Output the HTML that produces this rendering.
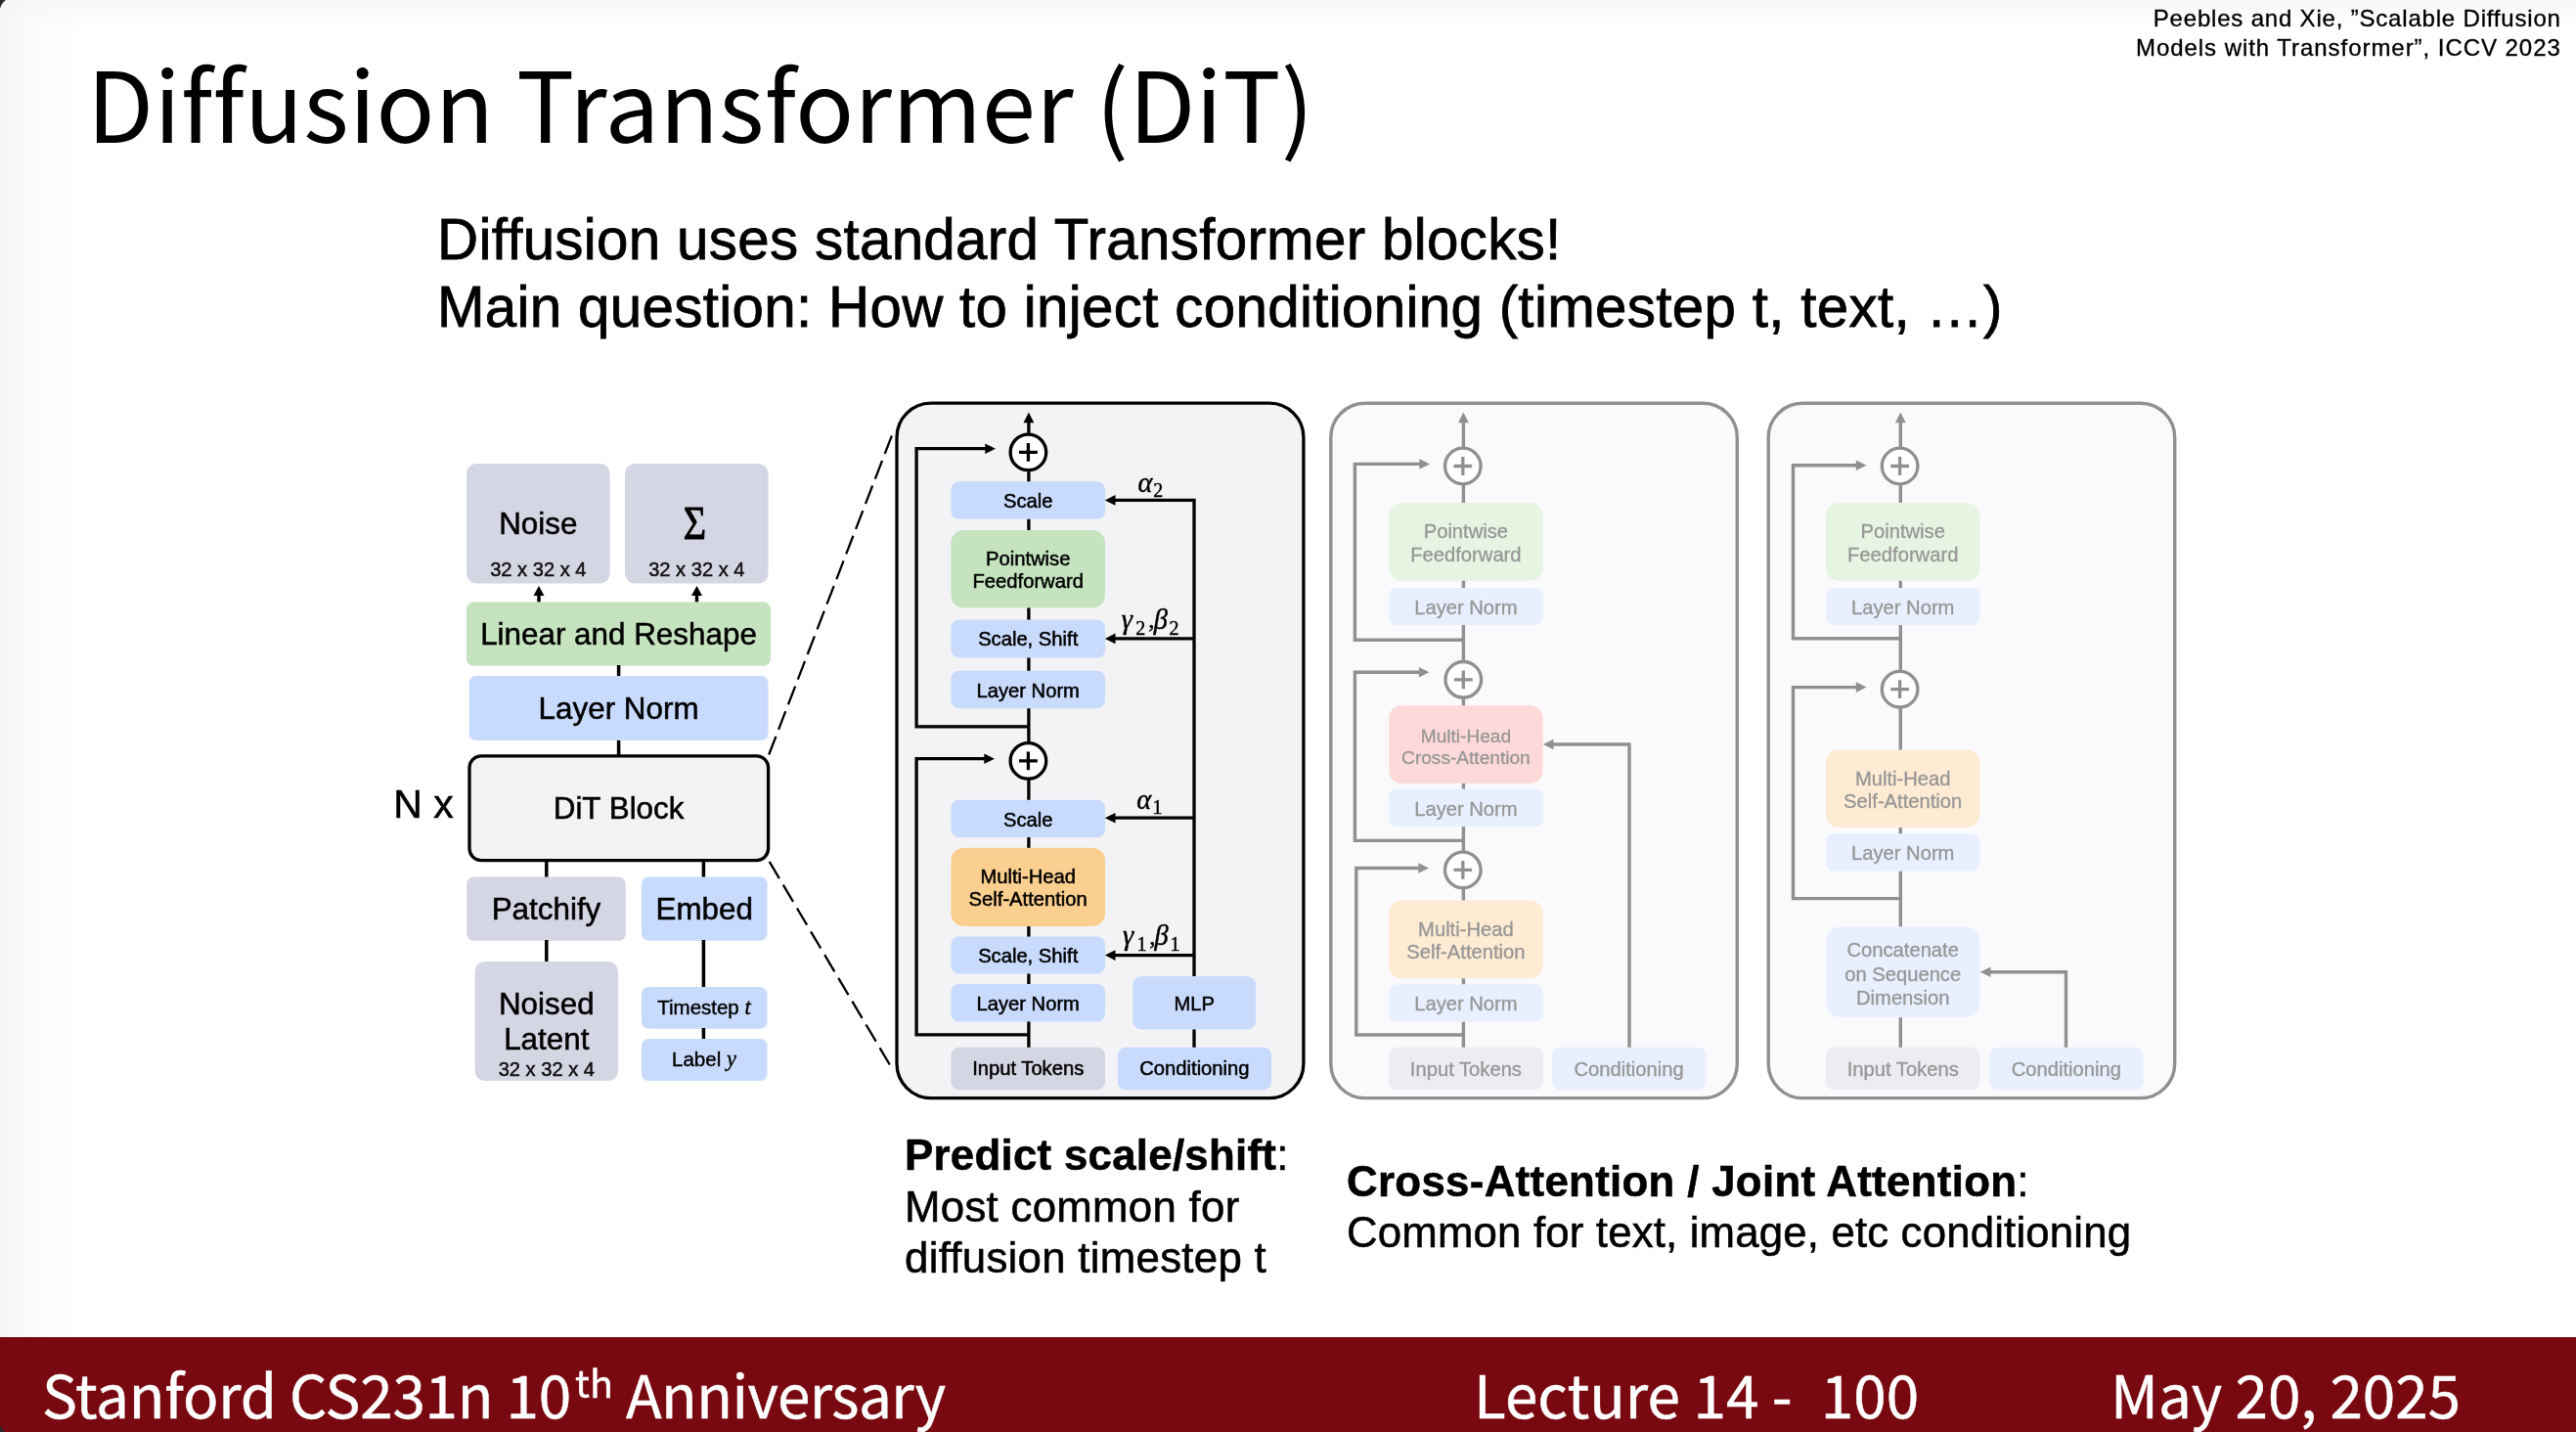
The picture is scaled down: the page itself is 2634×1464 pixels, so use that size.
<!DOCTYPE html>
<html lang="en"><head><meta charset="utf-8"><title>Diffusion Transformer (DiT)</title>
<style>
html,body{margin:0;padding:0;background:#fff}
body{width:2634px;height:1464px;position:relative;overflow:hidden;font-family:"Liberation Sans", sans-serif;color:#000}
.bg{position:absolute;left:0;top:0;width:2634px;height:1464px;background:
 linear-gradient(to right,#f4f4f4 0,#fbfbfb 30px,#fff 80px),#fff}
.bgt{position:absolute;left:0;top:0;width:2634px;height:30px;background:linear-gradient(to bottom,rgba(246,246,246,.9),rgba(255,255,255,0))}
.t{position:absolute;white-space:nowrap;line-height:1;will-change:transform}
#title{left:89px;top:54.3px;font-family:"Noto Sans CJK JP", "Liberation Sans", sans-serif;font-size:99px;letter-spacing:.3px;font-variant-ligatures:none}
#cite{right:15px;top:4px;font-size:24px;line-height:29.6px;text-align:right;letter-spacing:.95px;-webkit-text-stroke:.35px #000}
#sub{left:446.5px;top:209.6px;font-size:58.3px;line-height:69px;letter-spacing:.31px;-webkit-text-stroke:.8px #000}
#cap1{left:925px;top:1154.7px;font-size:43.8px;line-height:52.6px;letter-spacing:.28px;-webkit-text-stroke:.55px #000}
#cap2{left:1377px;top:1181.7px;font-size:43.8px;line-height:52.2px;letter-spacing:.25px;-webkit-text-stroke:.55px #000}
#foot{position:absolute;left:0;top:1366.6px;width:2634px;height:98px;background:#780910;color:#fff;font-family:"Noto Sans CJK JP", "Liberation Sans", sans-serif;font-size:60.3px;-webkit-text-stroke:.45px #fff}
#foot .t{top:27px}
.corner{position:absolute;width:40px;height:40px}
</style></head><body>
<div class="bg"></div><div class="bgt"></div>
<div class="t" id="title">Diffusion Transformer (DiT)</div>
<div class="t" id="cite"><span style="letter-spacing:.81px">Peebles and Xie, ”Scalable Diffusion</span><br>Models with Transformer”, ICCV 2023</div>
<div class="t" id="sub">Diffusion uses standard Transformer blocks!<br>Main question: How to inject conditioning (timestep t, text, …)</div>
<svg width="2634" height="1464" viewBox="0 0 2634 1464" style="position:absolute;left:0;top:0;will-change:transform" font-family='"Liberation Sans", sans-serif'>
<rect x="477.0" y="474.0" width="146.6" height="122.4" rx="10" fill="#d5d6e4"/>
<rect x="639.0" y="474.0" width="146.6" height="122.4" rx="10" fill="#d5d6e4"/>
<text x="550.3" y="545.5" font-size="31.4" fill="#000" text-anchor="middle" stroke="#000" stroke-width="0.5">Noise</text>
<text transform="translate(710.5 550.5) scale(0.98 1.17)" stroke="#000" stroke-width="0.8" font-size="41" text-anchor="middle" font-family='"Liberation Serif", "DejaVu Serif", serif'>Σ</text>
<text x="550.3" y="589.0" font-size="20.1" fill="#111" text-anchor="middle" stroke="#111" stroke-width="0.5">32 x 32 x 4</text>
<text x="712.3" y="589.0" font-size="20.1" fill="#111" text-anchor="middle" stroke="#111" stroke-width="0.5">32 x 32 x 4</text>
<path d="M551.0 615.6 L551.0 606.0" fill="none" stroke="#000" stroke-width="3.5"/>
<polygon points="551.0,599.0 545.5,609.0 556.5,609.0" fill="#000"/>
<path d="M712.5 615.6 L712.5 606.0" fill="none" stroke="#000" stroke-width="3.5"/>
<polygon points="712.5,599.0 707.0,609.0 718.0,609.0" fill="#000"/>
<rect x="477.0" y="615.6" width="311.0" height="65.1" rx="7" fill="#c5e3bf"/>
<text x="632.5" y="659.3" font-size="31.4" fill="#000" text-anchor="middle" stroke="#000" stroke-width="0.5">Linear and Reshape</text>
<path d="M632.6 680.0 L632.6 692.0" fill="none" stroke="#000" stroke-width="3.5"/>
<rect x="479.7" y="691.0" width="305.9" height="66.0" rx="7" fill="#c9dbfd"/>
<text x="632.6" y="735.1" font-size="31.4" fill="#000" text-anchor="middle" stroke="#000" stroke-width="0.5">Layer Norm</text>
<path d="M632.6 757.0 L632.6 773.0" fill="none" stroke="#000" stroke-width="3.5"/>
<rect x="480.0" y="772.8" width="305.6" height="106.8" rx="12" fill="#f3f3f5" stroke="#000" stroke-width="3.3"/>
<text x="632.6" y="837.0" font-size="31.4" fill="#000" text-anchor="middle" stroke="#000" stroke-width="0.5">DiT Block</text>
<text x="402.3" y="835.5" font-size="41" fill="#000" text-anchor="start" stroke="#000" stroke-width="0.5">N x</text>
<path d="M558.8 881.0 L558.8 897.0" fill="none" stroke="#000" stroke-width="3.5"/>
<path d="M719.4 881.0 L719.4 897.0" fill="none" stroke="#000" stroke-width="3.5"/>
<rect x="477.2" y="896.6" width="162.6" height="65.1" rx="7" fill="#d5d6e4"/>
<text x="558.5" y="940.3" font-size="31.4" fill="#000" text-anchor="middle" stroke="#000" stroke-width="0.5">Patchify</text>
<rect x="656.0" y="896.6" width="128.5" height="65.1" rx="7" fill="#c9dbfd"/>
<text x="720.2" y="940.3" font-size="31.4" fill="#000" text-anchor="middle" stroke="#000" stroke-width="0.5">Embed</text>
<path d="M558.8 961.0 L558.8 984.0" fill="none" stroke="#000" stroke-width="3.5"/>
<path d="M719.4 961.0 L719.4 1010.0" fill="none" stroke="#000" stroke-width="3.5"/>
<rect x="485.6" y="983.0" width="146.4" height="122.0" rx="10" fill="#d5d6e4"/>
<text x="558.8" y="1036.5" font-size="31.4" fill="#000" text-anchor="middle" stroke="#000" stroke-width="0.5">Noised</text>
<text x="558.8" y="1072.5" font-size="31.4" fill="#000" text-anchor="middle" stroke="#000" stroke-width="0.5">Latent</text>
<text x="558.8" y="1100.0" font-size="20.1" fill="#111" text-anchor="middle" stroke="#111" stroke-width="0.5">32 x 32 x 4</text>
<rect x="656.0" y="1009.0" width="128.5" height="42.7" rx="7" fill="#c9dbfd"/>
<text x="720" y="1037" font-size="20.5" stroke="#000" stroke-width="0.4" text-anchor="middle">Timestep <tspan font-family='"Liberation Serif", "DejaVu Serif", serif' font-style="italic" font-size="22.5">t</tspan></text>
<path d="M719.4 1051.0 L719.4 1063.0" fill="none" stroke="#000" stroke-width="3.5"/>
<rect x="656.0" y="1062.0" width="128.5" height="43.0" rx="7" fill="#c9dbfd"/>
<text x="720" y="1090" font-size="20.5" stroke="#000" stroke-width="0.4" text-anchor="middle">Label <tspan font-family='"Liberation Serif", "DejaVu Serif", serif' font-style="italic" font-size="22.5">y</tspan></text>
<path d="M786.2 771.5 L911.9 445.3" fill="none" stroke="#000" stroke-width="2.3" stroke-dasharray="20 7.47"/>
<path d="M786.7 880.9 L909.8 1088.5" fill="none" stroke="#000" stroke-width="2.3" stroke-dasharray="20 7.67"/>
<rect x="917.0" y="412.2" width="415.9" height="710.4" rx="35" fill="#f3f3f6" stroke="#000" stroke-width="3.3"/>
<path d="M1051.9 1072.0 L1051.9 432.0" fill="none" stroke="#000" stroke-width="3.3"/>
<polygon points="1051.9,421.6 1046.5,432.2 1057.3,432.2" fill="#000"/>
<path d="M1221.0 1072.0 L1221.0 511.4 L1140.0 511.4" fill="none" stroke="#000" stroke-width="3.3"/>
<polygon points="1129.8,511.4 1140.5,506.1 1140.5,516.7" fill="#000"/>
<path d="M1221.0 652.9 L1139.0 652.9" fill="none" stroke="#000" stroke-width="3.3"/>
<polygon points="1129.8,652.9 1140.5,647.6 1140.5,658.2" fill="#000"/>
<path d="M1221.0 836.2 L1139.0 836.2" fill="none" stroke="#000" stroke-width="3.3"/>
<polygon points="1129.8,836.2 1140.5,830.9 1140.5,841.5" fill="#000"/>
<path d="M1221.0 976.6 L1139.0 976.6" fill="none" stroke="#000" stroke-width="3.3"/>
<polygon points="1129.8,976.6 1140.5,971.3 1140.5,981.9" fill="#000"/>
<path d="M1051.9 742.9 L937.1 742.9 L937.1 458.7 L1009.0 458.7" fill="none" stroke="#000" stroke-width="3.3"/>
<polygon points="1018.0,458.7 1007.3,453.4 1007.3,464.0" fill="#000"/>
<path d="M1051.9 1057.8 L937.1 1057.8 L937.1 775.7 L1008.0 775.7" fill="none" stroke="#000" stroke-width="3.3"/>
<polygon points="1017.0,775.7 1006.3,770.4 1006.3,781.0" fill="#000"/>
<circle cx="1051.4" cy="462.4" r="18.3" fill="#fff" stroke="#000" stroke-width="3.3"/>
<path d="M1042.0 462.4H1060.8M1051.4 453.0V471.8" stroke="#000" stroke-width="3.3" fill="none"/>
<circle cx="1051.4" cy="777.9" r="18.3" fill="#fff" stroke="#000" stroke-width="3.3"/>
<path d="M1042.0 777.9H1060.8M1051.4 768.5V787.3" stroke="#000" stroke-width="3.3" fill="none"/>
<rect x="972.4" y="492.3" width="157.6" height="38.5" rx="8" fill="#c9dbfd"/>
<text x="1051.2" y="519.1" font-size="20.2" fill="#000" text-anchor="middle" stroke="#000" stroke-width="0.5">Scale</text>
<rect x="972.4" y="542.0" width="157.6" height="79.5" rx="13" fill="#c5e3bf"/>
<text x="1051.2" y="577.7" font-size="20.2" fill="#000" text-anchor="middle" stroke="#000" stroke-width="0.5">Pointwise</text>
<text x="1051.2" y="600.9" font-size="20.2" fill="#000" text-anchor="middle" stroke="#000" stroke-width="0.5">Feedforward</text>
<rect x="972.4" y="633.5" width="157.6" height="39.0" rx="8" fill="#c9dbfd"/>
<text x="1051.2" y="659.6" font-size="20.2" fill="#000" text-anchor="middle" stroke="#000" stroke-width="0.5">Scale, Shift</text>
<rect x="972.4" y="685.7" width="157.6" height="38.5" rx="8" fill="#c9dbfd"/>
<text x="1051.2" y="712.5" font-size="20.2" fill="#000" text-anchor="middle" stroke="#000" stroke-width="0.5">Layer Norm</text>
<rect x="972.4" y="817.7" width="157.6" height="38.4" rx="8" fill="#c9dbfd"/>
<text x="1051.2" y="844.5" font-size="20.2" fill="#000" text-anchor="middle" stroke="#000" stroke-width="0.5">Scale</text>
<rect x="972.4" y="866.7" width="157.6" height="80.2" rx="13" fill="#fbcf8f"/>
<text x="1051.2" y="902.8" font-size="20.2" fill="#000" text-anchor="middle" stroke="#000" stroke-width="0.5">Multi-Head</text>
<text x="1051.2" y="926.0" font-size="20.2" fill="#000" text-anchor="middle" stroke="#000" stroke-width="0.5">Self-Attention</text>
<rect x="972.4" y="957.5" width="157.6" height="37.9" rx="8" fill="#c9dbfd"/>
<text x="1051.2" y="984.0" font-size="20.2" fill="#000" text-anchor="middle" stroke="#000" stroke-width="0.5">Scale, Shift</text>
<rect x="972.4" y="1006.0" width="157.6" height="38.5" rx="8" fill="#c9dbfd"/>
<text x="1051.2" y="1032.8" font-size="20.2" fill="#000" text-anchor="middle" stroke="#000" stroke-width="0.5">Layer Norm</text>
<rect x="1158.2" y="998.0" width="126.0" height="54.5" rx="9" fill="#c9dbfd"/>
<text x="1221.2" y="1032.8" font-size="20.2" fill="#000" text-anchor="middle" stroke="#000" stroke-width="0.5">MLP</text>
<rect x="972.4" y="1070.8" width="157.6" height="43.4" rx="8" fill="#d5d6e4"/>
<text x="1051.2" y="1099.3" font-size="20.2" fill="#000" text-anchor="middle" stroke="#000" stroke-width="0.5">Input Tokens</text>
<rect x="1142.8" y="1070.8" width="157.3" height="43.4" rx="8" fill="#c9dbfd"/>
<text x="1221.4" y="1099.3" font-size="20.2" fill="#000" text-anchor="middle" stroke="#000" stroke-width="0.5">Conditioning</text>
<text font-family='"Liberation Serif", "DejaVu Serif", serif' stroke="#000" stroke-width="0.45"><tspan x="1163.5" y="502.6" font-size="28.5" font-style="italic">α</tspan><tspan x="1179.3" y="507.7" font-size="20">2</tspan></text>
<text font-family='"Liberation Serif", "DejaVu Serif", serif' stroke="#000" stroke-width="0.45"><tspan x="1162.2" y="827" font-size="28.5" font-style="italic">α</tspan><tspan x="1178.6" y="832.1" font-size="20">1</tspan></text>
<text font-family='"Liberation Serif", "DejaVu Serif", serif' stroke="#000" stroke-width="0.45"><tspan x="1146.8" y="642.6" font-size="28.5" font-style="italic">γ</tspan><tspan x="1161.2" y="648.7" font-size="20">2</tspan><tspan x="1174.3" y="642.4" font-size="25">,</tspan><tspan x="1179.8" y="642.6" font-size="28.5" font-style="italic">β</tspan><tspan x="1195.6" y="648.7" font-size="20">2</tspan></text>
<text font-family='"Liberation Serif", "DejaVu Serif", serif' stroke="#000" stroke-width="0.45"><tspan x="1148" y="966.1" font-size="28.5" font-style="italic">γ</tspan><tspan x="1162.6" y="972.2" font-size="20">1</tspan><tspan x="1175.3" y="965.9" font-size="25">,</tspan><tspan x="1180.5" y="966.1" font-size="28.5" font-style="italic">β</tspan><tspan x="1196.6" y="972.2" font-size="20">1</tspan></text>
<rect x="1360.8" y="412.3" width="415.5" height="710.3" rx="35" fill="#fafafc" stroke="#909090" stroke-width="3.4"/>
<path d="M1496.4 1072.0 L1496.4 432.0" fill="none" stroke="#909090" stroke-width="3.4"/>
<polygon points="1496.4,421.6 1491.0,432.2 1501.8,432.2" fill="#909090"/>
<path d="M1496.4 654.3 L1385.4 654.3 L1385.4 474.4 L1453.0 474.4" fill="none" stroke="#909090" stroke-width="3.4"/>
<polygon points="1462.0,474.4 1451.3,469.1 1451.3,479.7" fill="#909090"/>
<path d="M1496.4 859.4 L1385.4 859.4 L1385.4 687.2 L1452.5 687.2" fill="none" stroke="#909090" stroke-width="3.4"/>
<polygon points="1461.5,687.2 1450.8,681.9 1450.8,692.5" fill="#909090"/>
<path d="M1496.4 1058.0 L1386.8 1058.0 L1386.8 887.5 L1452.0 887.5" fill="none" stroke="#909090" stroke-width="3.4"/>
<polygon points="1461.0,887.5 1450.3,882.2 1450.3,892.8" fill="#909090"/>
<path d="M1666.0 1072.0 L1666.0 761.0 L1587.0 761.0" fill="none" stroke="#909090" stroke-width="3.4"/>
<polygon points="1577.8,761.0 1588.5,755.7 1588.5,766.3" fill="#909090"/>
<circle cx="1495.8" cy="476.5" r="18.3" fill="#fff" stroke="#909090" stroke-width="3.3"/>
<path d="M1486.4 476.5H1505.2M1495.8 467.1V485.9" stroke="#909090" stroke-width="3.3" fill="none"/>
<circle cx="1496.3" cy="694.8" r="18.3" fill="#fff" stroke="#909090" stroke-width="3.3"/>
<path d="M1486.9 694.8H1505.7M1496.3 685.4V704.2" stroke="#909090" stroke-width="3.3" fill="none"/>
<circle cx="1495.8" cy="889.4" r="18.3" fill="#fff" stroke="#909090" stroke-width="3.3"/>
<path d="M1486.4 889.4H1505.2M1495.8 880.0V898.8" stroke="#909090" stroke-width="3.3" fill="none"/>
<rect x="1420.2" y="514.1" width="157.4" height="79.7" rx="13" fill="#e6f4e2"/>
<text x="1498.9" y="550.3" font-size="20.2" fill="#969696" text-anchor="middle" stroke="#969696" stroke-width="0.3">Pointwise</text>
<text x="1498.9" y="573.5" font-size="20.2" fill="#969696" text-anchor="middle" stroke="#969696" stroke-width="0.3">Feedforward</text>
<rect x="1420.2" y="601.0" width="157.4" height="38.0" rx="8" fill="#e8effe"/>
<text x="1498.9" y="628.0" font-size="20.2" fill="#969696" text-anchor="middle" stroke="#969696" stroke-width="0.3">Layer Norm</text>
<rect x="1420.2" y="721.2" width="157.4" height="79.8" rx="13" fill="#fed9d9"/>
<text x="1498.9" y="758.5" font-size="19.1" fill="#969696" text-anchor="middle" stroke="#969696" stroke-width="0.3">Multi-Head</text>
<text x="1498.9" y="780.5" font-size="19.1" fill="#969696" text-anchor="middle" stroke="#969696" stroke-width="0.3">Cross-Attention</text>
<rect x="1420.2" y="806.5" width="157.4" height="38.5" rx="8" fill="#e8effe"/>
<text x="1498.9" y="833.7" font-size="20.2" fill="#969696" text-anchor="middle" stroke="#969696" stroke-width="0.3">Layer Norm</text>
<rect x="1420.2" y="920.4" width="157.4" height="79.9" rx="13" fill="#feebd3"/>
<text x="1498.9" y="956.7" font-size="20.2" fill="#969696" text-anchor="middle" stroke="#969696" stroke-width="0.3">Multi-Head</text>
<text x="1498.9" y="979.9" font-size="20.2" fill="#969696" text-anchor="middle" stroke="#969696" stroke-width="0.3">Self-Attention</text>
<rect x="1420.2" y="1006.2" width="157.4" height="38.5" rx="8" fill="#e8effe"/>
<text x="1498.9" y="1033.4" font-size="20.2" fill="#969696" text-anchor="middle" stroke="#969696" stroke-width="0.3">Layer Norm</text>
<rect x="1420.2" y="1070.8" width="157.4" height="43.4" rx="8" fill="#ecedf2"/>
<text x="1498.9" y="1099.9" font-size="20.2" fill="#969696" text-anchor="middle" stroke="#969696" stroke-width="0.3">Input Tokens</text>
<rect x="1586.9" y="1070.8" width="157.4" height="43.4" rx="8" fill="#e8effe"/>
<text x="1665.6" y="1099.9" font-size="20.2" fill="#969696" text-anchor="middle" stroke="#969696" stroke-width="0.3">Conditioning</text>
<rect x="1808.2" y="412.3" width="415.5" height="710.3" rx="35" fill="#fafafc" stroke="#909090" stroke-width="3.4"/>
<path d="M1943.3 1072.0 L1943.3 432.0" fill="none" stroke="#909090" stroke-width="3.4"/>
<polygon points="1943.3,421.6 1937.9,432.2 1948.7,432.2" fill="#909090"/>
<path d="M1943.3 652.7 L1833.5 652.7 L1833.5 475.7 L1899.5 475.7" fill="none" stroke="#909090" stroke-width="3.4"/>
<polygon points="1908.5,475.7 1897.8,470.4 1897.8,481.0" fill="#909090"/>
<path d="M1943.3 918.6 L1833.5 918.6 L1833.5 702.6 L1899.5 702.6" fill="none" stroke="#909090" stroke-width="3.4"/>
<polygon points="1908.5,702.6 1897.8,697.3 1897.8,707.9" fill="#909090"/>
<path d="M2112.5 1072.0 L2112.5 993.7 L2034.0 993.7" fill="none" stroke="#909090" stroke-width="3.4"/>
<polygon points="2024.8,993.7 2035.5,988.4 2035.5,999.0" fill="#909090"/>
<circle cx="1942.6" cy="476.5" r="18.3" fill="#fff" stroke="#909090" stroke-width="3.3"/>
<path d="M1933.2 476.5H1952.0M1942.6 467.1V485.9" stroke="#909090" stroke-width="3.3" fill="none"/>
<circle cx="1942.6" cy="704.7" r="18.3" fill="#fff" stroke="#909090" stroke-width="3.3"/>
<path d="M1933.2 704.7H1952.0M1942.6 695.3V714.1" stroke="#909090" stroke-width="3.3" fill="none"/>
<rect x="1867.0" y="514.1" width="157.4" height="79.7" rx="13" fill="#e6f4e2"/>
<text x="1945.7" y="550.3" font-size="20.2" fill="#969696" text-anchor="middle" stroke="#969696" stroke-width="0.3">Pointwise</text>
<text x="1945.7" y="573.5" font-size="20.2" fill="#969696" text-anchor="middle" stroke="#969696" stroke-width="0.3">Feedforward</text>
<rect x="1867.0" y="601.0" width="157.4" height="38.0" rx="8" fill="#e8effe"/>
<text x="1945.7" y="628.0" font-size="20.2" fill="#969696" text-anchor="middle" stroke="#969696" stroke-width="0.3">Layer Norm</text>
<rect x="1867.0" y="766.5" width="157.4" height="79.6" rx="13" fill="#feebd3"/>
<text x="1945.7" y="802.7" font-size="20.2" fill="#969696" text-anchor="middle" stroke="#969696" stroke-width="0.3">Multi-Head</text>
<text x="1945.7" y="825.9" font-size="20.2" fill="#969696" text-anchor="middle" stroke="#969696" stroke-width="0.3">Self-Attention</text>
<rect x="1867.0" y="852.2" width="157.4" height="38.5" rx="8" fill="#e8effe"/>
<text x="1945.7" y="879.4" font-size="20.2" fill="#969696" text-anchor="middle" stroke="#969696" stroke-width="0.3">Layer Norm</text>
<rect x="1867.0" y="947.2" width="157.4" height="93.0" rx="16" fill="#e8effe"/>
<text x="1945.7" y="978.4" font-size="20.2" fill="#969696" text-anchor="middle" stroke="#969696" stroke-width="0.3">Concatenate</text>
<text x="1945.7" y="1002.7" font-size="20.2" fill="#969696" text-anchor="middle" stroke="#969696" stroke-width="0.3">on Sequence</text>
<text x="1945.7" y="1026.9" font-size="20.2" fill="#969696" text-anchor="middle" stroke="#969696" stroke-width="0.3">Dimension</text>
<rect x="1867.0" y="1070.8" width="157.4" height="43.4" rx="8" fill="#ecedf2"/>
<text x="1945.7" y="1099.9" font-size="20.2" fill="#969696" text-anchor="middle" stroke="#969696" stroke-width="0.3">Input Tokens</text>
<rect x="2034.2" y="1070.8" width="157.2" height="43.4" rx="8" fill="#e8effe"/>
<text x="2112.8" y="1099.9" font-size="20.2" fill="#969696" text-anchor="middle" stroke="#969696" stroke-width="0.3">Conditioning</text>
</svg>
<div class="t" id="cap1"><b>Predict scale/shift</b>:<br>Most common for<br>diffusion timestep t</div>
<div class="t" id="cap2"><span style="letter-spacing:.32px"><b>Cross-Attention / Joint Attention</b>:</span><br><span style="letter-spacing:.155px">Common for text, image, etc conditioning</span></div>
<div id="foot">
<div class="t" style="left:43px;letter-spacing:-.27px">Stanford CS231n 10</div>
<div class="t" style="left:588px;top:25.1px;font-size:39.5px">th</div>
<div class="t" style="left:640px;letter-spacing:-.6px">Anniversary</div>
<div class="t" style="left:1507.2px">Lecture 14 - <span style="display:inline-block;width:15.5px"></span>100</div>
<div class="t" style="left:2158.3px;letter-spacing:-.08px">May 20, 2025</div>
</div>
<svg class="corner" style="left:0;top:0" viewBox="0 0 40 40"><path d="M0 0H6Q1.5 3 0 9Z" fill="#23282d"/></svg>
<svg class="corner" style="left:0;top:1424px" viewBox="0 0 40 40"><path d="M0 40H5Q1.5 37 0 33Z" fill="#23282d"/></svg>
</body></html>
